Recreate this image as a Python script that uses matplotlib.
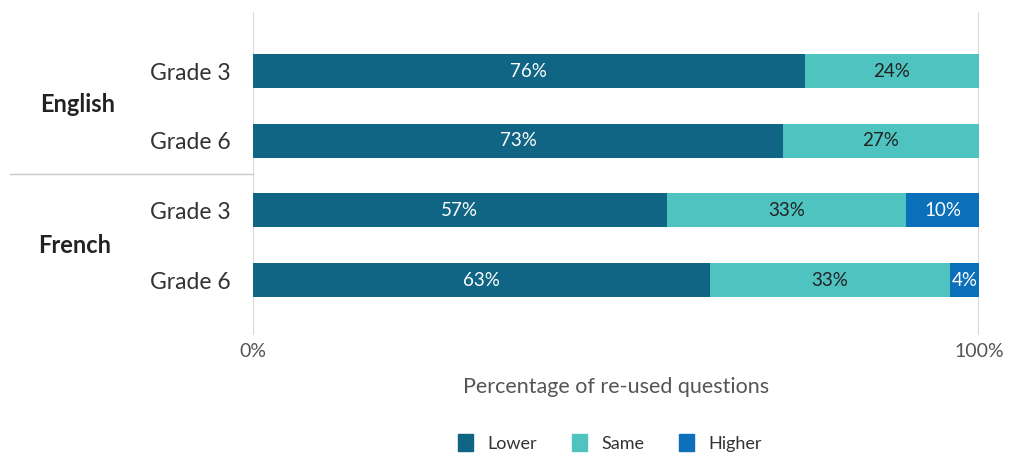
import matplotlib.pyplot as plt
from matplotlib.patches import Patch

plt.rcParams['font.family'] = ['Lato', 'DejaVu Sans']

grades = ['Grade 3', 'Grade 6', 'Grade 3', 'Grade 6']
subjects = ['English', 'French']
lower = [76, 73, 57, 63]
same = [24, 27, 33, 33]
higher = [0, 0, 10, 4]

series = [('Lower', lower, '#106484', 'white'),
          ('Same', same, '#4ec3c0', '#222222'),
          ('Higher', higher, '#0b6fba', 'white')]

fig = plt.figure(figsize=(10.11, 4.55), dpi=100)
ax = fig.add_axes([0.2502, 0.2637, 0.7181, 0.7099])

ypos = list(range(len(grades)))
left = [0] * len(grades)
for name, vals, col, tcol in series:
    bars = ax.barh(ypos, vals, left=left, height=0.49, color=col, label=name, zorder=2)
    for b, v in zip(bars, vals):
        if v > 0:
            ax.text(b.get_x() + b.get_width() / 2, b.get_y() + b.get_height() / 2,
                    f'{v}%', ha='center', va='center', color=tcol, fontsize=13.5, zorder=3)
    left = [l + v for l, v in zip(left, vals)]

ax.set_xlim(0, 100)
ax.set_ylim(3.79, -0.85)
ax.set_xticks([0, 100])
ax.set_xticklabels(['0%', '100%'], fontsize=14, color='#555555')
ax.set_yticks(ypos)
ax.set_yticklabels(grades, fontsize=16.5, color='#333333')
ax.tick_params(axis='both', length=0)
ax.tick_params(axis='x', pad=6)
ax.tick_params(axis='y', pad=16)
for s in ax.spines.values():
    s.set_visible(False)
ax.grid(axis='x', color='#d9d9d9', linewidth=1.5, zorder=0)
ax.set_xlabel('Percentage of re-used questions', fontsize=15.5, color='#555555', labelpad=12)

# group labels and separator
fig.text(78 / 1011, 1 - 104 / 455, subjects[0], ha='center', va='center',
         fontsize=17, fontweight='bold', color='#222222')
fig.text(75 / 1011, 1 - 246 / 455, subjects[1], ha='center', va='center',
         fontsize=17, fontweight='bold', color='#222222')
fig.add_artist(plt.Line2D([10 / 1011, 253 / 1011], [1 - 174 / 455, 1 - 174 / 455],
                          color='#c8c8c8', linewidth=1))

handles = [Patch(color=c, label=n) for n, _, c, _ in series]
fig.legend(handles=handles, loc='center', bbox_to_anchor=(610 / 1011, 1 - 443 / 455),
           ncol=3, frameon=False, fontsize=13, handlelength=0.85, handleheight=1.0,
           columnspacing=1.9, handletextpad=0.8, labelcolor='#333333')

fig.savefig('out.png', dpi=100)
